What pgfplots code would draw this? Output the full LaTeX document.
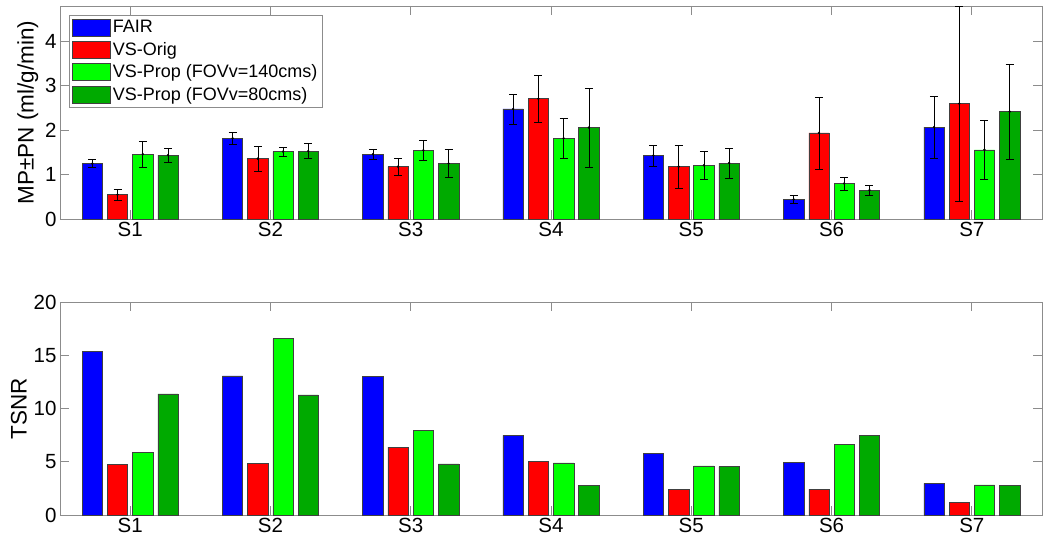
\documentclass[border=0pt]{standalone}
\usepackage{fontspec}
\setmainfont{Liberation Sans}
\usepackage{pgfplots}
\usepackage{pgfplotstable}
\pgfplotsset{compat=1.18}

\definecolor{cfair}{RGB}{0,0,255}
\definecolor{corig}{RGB}{255,0,0}
\definecolor{cpa}{RGB}{0,255,0}
\definecolor{cpb}{RGB}{0,170,0}

\pgfplotstableread{
x fair efair orig eorig pa epa pb epb
1 1.25 0.085 0.55 0.12 1.46 0.30 1.44 0.16
2 1.82 0.135 1.36 0.275 1.52 0.10 1.53 0.17
3 1.46 0.12 1.18 0.185 1.55 0.233 1.25 0.31
4 2.48 0.34 2.71 0.53 1.82 0.445 2.06 0.89
5 1.43 0.24 1.18 0.49 1.21 0.31 1.26 0.34
6 0.44 0.09 1.94 0.81 0.80 0.147 0.65 0.105
7 2.07 0.705 2.60 2.20 1.56 0.66 2.42 1.07
}\mptab

\pgfplotstableread{
x fair orig pa pb
1 15.38 4.74 5.87 11.37
2 13.06 4.87 16.55 11.27
3 13.00 6.37 7.94 4.80
4 7.47 5.02 4.90 2.79
5 5.81 2.42 4.62 4.55
6 4.96 2.42 6.62 7.47
7 2.98 1.19 2.83 2.76
}\tsnrtab

\pgfplotsset{
  mystyle/.style={
    scale only axis, width=982pt, height=213pt,
    xmin=0.5, xmax=7.5, xtick={1,2,3,4,5,6,7},
    xticklabels={S1,S2,S3,S4,S5,S6,S7},
    tick align=inside, major tick length=9pt,
    axis line style={black!45, line width=0.8pt},
    tick style={black!45, line width=0.8pt},
    ticklabel style={font=\fontsize{20.5}{23}\selectfont},
    /pgf/number format/assume math mode=true,
    label style={font=\fontsize{22.5}{25}\selectfont},
    ymin=0,
  },
  bars/.style={ybar, bar width=0.145, draw=black!75, line width=0.5pt},
  errs/.style={draw=none, mark=*, mark size=1pt, mark options={black, fill=black},
    forget plot, error bars/.cd, y dir=both, y explicit,
    error bar style={black, line width=0.6pt},
    error mark options={rotate=90, mark size=4pt, black, line width=0.6pt}},
}

\begin{document}
\begin{tikzpicture}
\path[use as bounding box] (-60pt,6pt) rectangle (990pt,-540pt);
\begin{axis}[mystyle, at={(0pt,0pt)}, anchor=north west,
  ymax=4.8, ytick={0,1,2,3,4}, clip=false,
  ylabel={MP±PN (ml/g/min)},
  legend style={at={(axis description cs:0,1)}, anchor=north west,
    xshift=9pt, yshift=-9pt, draw=black!45, line width=0.8pt,
    font=\fontsize{18}{21}\selectfont, row sep=4pt, inner sep=3pt},
  legend cell align=left,
  legend image code/.code={\draw[#1] (0pt,-8.5pt) rectangle (38pt,8.5pt);},
]
\addplot[bars, fill=cfair, bar shift=-0.27] table[x=x, y=fair]{\mptab};
\addplot[bars, fill=corig, bar shift=-0.09] table[x=x, y=orig]{\mptab};
\addplot[bars, fill=cpa, bar shift=0.09] table[x=x, y=pa]{\mptab};
\addplot[bars, fill=cpb, bar shift=0.27] table[x=x, y=pb]{\mptab};
\legend{FAIR, VS-Orig, VS-Prop (FOVv=140cms), VS-Prop (FOVv=80cms)}
\addplot[errs] table[x expr=\thisrow{x}-0.27, y=fair, y error=efair]{\mptab};
\addplot[errs] table[x expr=\thisrow{x}-0.09, y=orig, y error=eorig]{\mptab};
\addplot[errs] table[x expr=\thisrow{x}+0.09, y=pa, y error=epa]{\mptab};
\addplot[errs] table[x expr=\thisrow{x}+0.27, y=pb, y error=epb]{\mptab};
\end{axis}
\begin{axis}[mystyle, at={(0pt,-296pt)}, anchor=north west,
  ymax=20, ytick={0,5,10,15,20},
  ylabel={TSNR},
]
\addplot[bars, fill=cfair, bar shift=-0.27] table[x=x, y=fair]{\tsnrtab};
\addplot[bars, fill=corig, bar shift=-0.09] table[x=x, y=orig]{\tsnrtab};
\addplot[bars, fill=cpa, bar shift=0.09] table[x=x, y=pa]{\tsnrtab};
\addplot[bars, fill=cpb, bar shift=0.27] table[x=x, y=pb]{\tsnrtab};
\end{axis}
\end{tikzpicture}
\end{document}
